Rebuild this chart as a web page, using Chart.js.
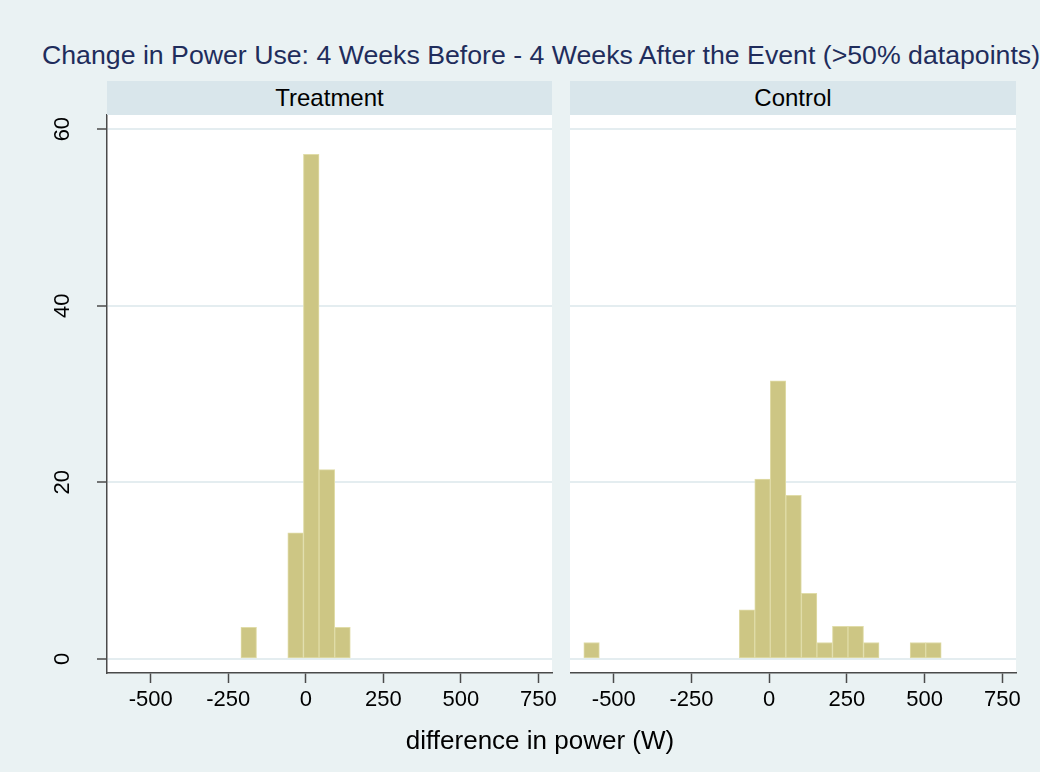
<!DOCTYPE html>
<html>
<head>
<meta charset="utf-8">
<script src="https://cdn.jsdelivr.net/npm/chart.js@4.4.1/dist/chart.umd.min.js"></script>
<style>
    body { margin: 0; }
    #page { position: relative; width: 1040px; height: 772px; background: #eaf2f3; overflow: hidden; font-family: "Liberation Sans", Arial, sans-serif; }
    #title { position: absolute; left: 42px; top: 40px; font-size: 26.7px; line-height: 30px; color: #1f2d5c; white-space: nowrap; }
    .strip { position: absolute; top: 81px; height: 34px; line-height: 34px; background: #d9e6eb; text-align: center; font-size: 24px; color: #000; z-index: 2; }
    .panel { position: absolute; top: 65px; height: 707px; }
    #xtitle { position: absolute; left: 340px; width: 400px; top: 724px; text-align: center; font-size: 26px; line-height: 32px; color: #000; }
</style>
</head>
<body>
<div id="page">
    <div id="title">Change in Power Use: 4 Weeks Before - 4 Weeks After the Event (&gt;50% datapoints)</div>
    <div class="strip" style="left:107px; width:445px;">Treatment</div>
    <div class="strip" style="left:570px; width:446px;">Control</div>
    <div class="panel" style="left:0px; width:572px;"><canvas id="treatment" width="572" height="707"></canvas></div>
    <div class="panel" style="left:570px; width:466px;"><canvas id="control" width="466" height="707"></canvas></div>
    <div id="xtitle">difference in power (W)</div>
</div>
<script>
// axis ticks (W on x, percent on y)
const xTicks = [-500, -250, 0, 250, 500, 750];
const yTicks = [0, 20, 40, 60];

// Treatment: bin midpoints and percent of households
const treatmentBins = [-184, -133.6, -83.2, -32.8, 17.6, 68, 118.4];
const treatmentPct = [3.57, 0, 0, 14.29, 57.14, 21.43, 3.57];

// Control: bin midpoints and percent of households
const controlBins = [-571.6, -521.6, -471.6, -421.6, -371.6, -321.6, -271.6, -221.6, -171.6, -121.6,
    -71.6, -21.6, 28.4, 78.4, 128.4, 178.4, 228.4, 278.4, 328.4, 378.4, 428.4, 478.4, 528.4];
const controlPct = [1.85, 0, 0, 0, 0, 0, 0, 0, 0, 0,
    5.56, 20.37, 31.48, 18.52, 7.41, 1.85, 3.70, 3.70, 1.85, 0, 0, 1.85, 1.85];

const axisColor = '#4a4a4a';
const gridColor = '#e4edf0';
const tickFont = { family: '"Liberation Sans", Arial, sans-serif', size: 22 };

// white plot region like Stata's plotregion
const plotBackground = {
    id: 'plotBackground',
    beforeDraw(chart) {
        const { ctx, chartArea: a } = chart;
        ctx.save();
        ctx.fillStyle = '#ffffff';
        ctx.fillRect(a.left, a.top, a.right - a.left, a.bottom - a.top);
        ctx.restore();
    }
};

function makePanel(canvasId, bins, pct, showY) {
    const ctx = document.getElementById(canvasId).getContext('2d');
    return new Chart(ctx, {
        type: 'bar',
        data: {
            datasets: [{
                data: bins.map((x, i) => ({ x: x, y: pct[i] })),
                backgroundColor: '#cdc684',
                borderColor: '#e0dca8',
                borderWidth: 1,
                borderSkipped: false,
                barPercentage: 1,
                categoryPercentage: 1
            }]
        },
        options: {
            responsive: false,
            animation: false,
            layout: { padding: { top: 50, right: 20, bottom: 0, left: 0 } },
            plugins: { legend: { display: false }, tooltip: { enabled: false } },
            scales: {
                x: {
                    type: 'linear',
                    min: -641,
                    max: 794,
                    offset: false,
                    afterBuildTicks: s => { s.ticks = xTicks.map(v => ({ value: v })); },
                    afterFit: s => { s.height = 99; },
                    ticks: { color: '#000', font: tickFont, padding: 4, maxRotation: 0 },
                    grid: { drawOnChartArea: false, offset: false, tickLength: 10, tickColor: axisColor, tickWidth: 1.5 },
                    border: { color: axisColor, width: 1.5 }
                },
                y: {
                    min: -1.6,
                    max: 61.6,
                    afterBuildTicks: s => { s.ticks = yTicks.map(v => ({ value: v })); },
                    afterFit: s => { s.width = showY ? 107 : 0; },
                    ticks: { display: showY, color: '#000', font: tickFont, padding: 22, minRotation: 90, maxRotation: 90, crossAlign: 'center' },
                    grid: { color: gridColor, lineWidth: 2, drawTicks: showY, tickLength: 10, tickColor: axisColor, tickWidth: 1.5 },
                    border: { display: showY, color: axisColor, width: 1.5 }
                }
            }
        },
        plugins: [plotBackground]
    });
}

makePanel('treatment', treatmentBins, treatmentPct, true);
makePanel('control', controlBins, controlPct, false);
</script>
</body>
</html>
